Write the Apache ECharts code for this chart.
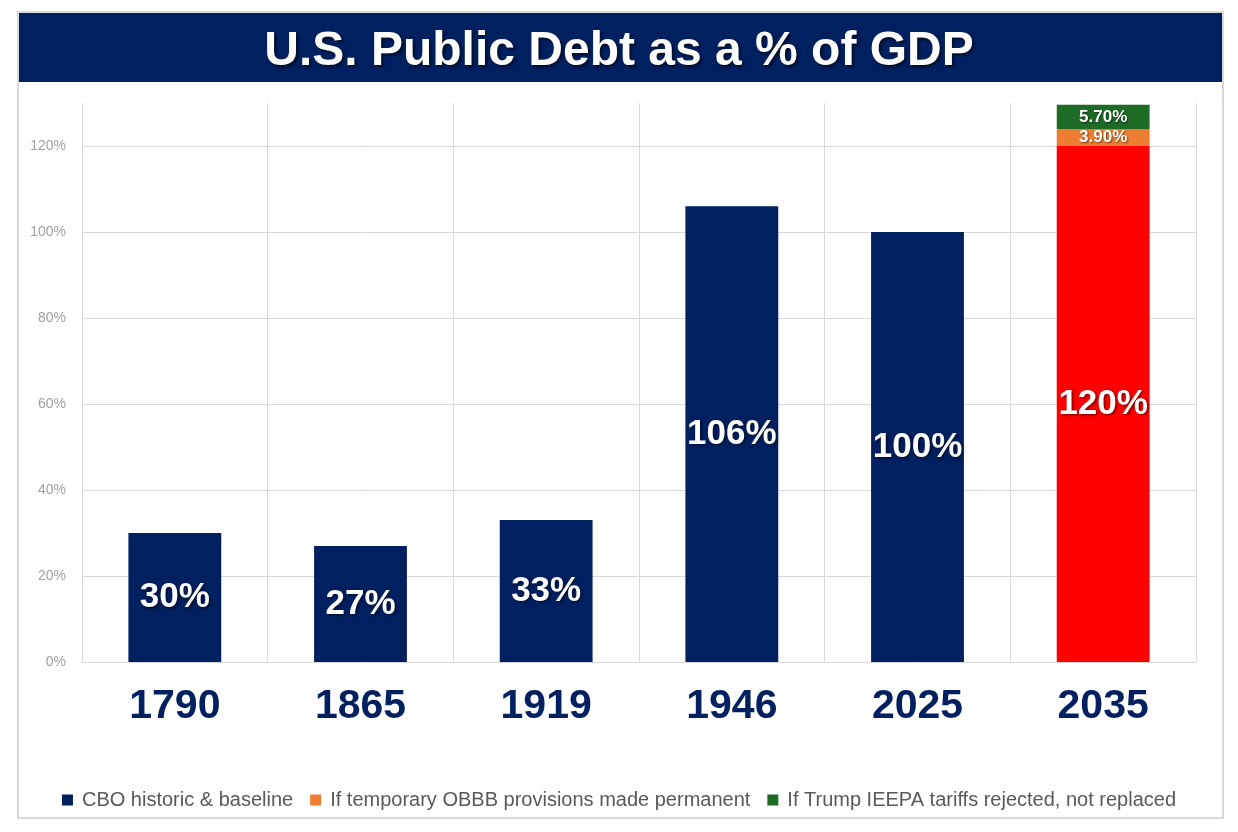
<!DOCTYPE html>
<html>
<head>
<meta charset="utf-8">
<script src="https://cdn.jsdelivr.net/npm/echarts@6/dist/echarts.min.js"></script>
<style>
  html, body { margin: 0; padding: 0; background: #fff; }
  #main { width: 1238px; height: 832px; }
</style>
</head>
<body>
<div id="main"></div>
<script>
// chart data
var years = ['1790', '1865', '1919', '1946', '2025', '2035'];
var baseline = [30, 27, 33, 106, 100, 120];
var obbb = ['-', '-', '-', '-', '-', 3.9];
var tariffs = ['-', '-', '-', '-', '-', 5.7];
var seriesNames = ['CBO historic & baseline', 'If temporary OBBB provisions made permanent', 'If Trump IEEPA tariffs rejected, not replaced'];

var NAVY = '#002060';
var FONT = '"Liberation Sans", Arial, sans-serif';

var myChart = echarts.init(document.getElementById('main'));

var baseData = baseline.map(function (v, i) {
    // the projected year is drawn in red
    return i === years.length - 1 ? { value: v, itemStyle: { color: '#FF0000' } } : v;
});

var bigLabel = {
    show: true,
    position: 'inside',
    color: '#fff',
    fontFamily: FONT,
    fontWeight: 'bold',
    fontSize: 35,
    textShadowColor: 'rgba(0,0,0,0.55)',
    textShadowBlur: 3,
    textShadowOffsetX: 1.5,
    textShadowOffsetY: 1.5,
    formatter: function (p) { return p.value + '%'; }
};

var smallLabel = {
    show: true,
    position: 'inside',
    color: '#fff',
    fontFamily: FONT,
    fontWeight: 'bold',
    fontSize: 17,
    textShadowColor: 'rgba(0,0,0,0.5)',
    textShadowBlur: 2,
    textShadowOffsetX: 1,
    textShadowOffsetY: 1,
    formatter: function (p) { return Number(p.value).toFixed(2) + '%'; }
};

var option = {
    animation: false,
    graphic: [
        {
            type: 'rect',
            shape: { x: 18, y: 12, width: 1205, height: 806 },
            style: { fill: 'none', stroke: '#d9d9d9', lineWidth: 2 },
            z: 100
        },
        {
            type: 'rect',
            shape: { x: 19, y: 13, width: 1203, height: 69 },
            style: { fill: NAVY }
        },
        {
            type: 'text',
            left: 'center',
            top: 28,
            style: {
                text: 'U.S. Public Debt as a % of GDP',
                fill: '#fff',
                font: 'bold 48px ' + FONT,
                textShadowColor: 'rgba(0,0,0,0.6)',
                textShadowBlur: 3,
                textShadowOffsetX: 2,
                textShadowOffsetY: 2
            }
        }
    ],
    legend: {
        data: seriesNames,
        bottom: 17,
        left: 'center',
        icon: 'rect',
        itemWidth: 11,
        itemHeight: 11,
        itemGap: 17,
        textStyle: { color: '#595959', fontSize: 20, fontFamily: FONT, padding: [0, 0, 0, 4] }
    },
    grid: { left: 82, right: 42, top: 103, bottom: 170 },
    xAxis: {
        type: 'category',
        data: years,
        axisLine: { show: false },
        axisTick: { show: false },
        splitLine: { show: true, lineStyle: { color: '#d9d9d9', width: 1 } },
        axisLabel: {
            color: NAVY,
            fontFamily: FONT,
            fontWeight: 'bold',
            fontSize: 41,
            margin: 24
        }
    },
    yAxis: {
        type: 'value',
        min: 0,
        max: 130,
        interval: 20,
        axisLine: { show: false },
        axisTick: { show: false },
        axisLabel: {
            color: '#a0a0a0',
            fontFamily: FONT,
            fontSize: 14,
            margin: 16,
            showMaxLabel: false,
            formatter: '{value}%'
        },
        splitLine: {
            lineStyle: {
                color: ['#d9d9d9', '#d9d9d9', '#d9d9d9', '#d9d9d9', '#d9d9d9', '#d9d9d9', '#d9d9d9', 'rgba(0,0,0,0)'],
                width: 1
            }
        }
    },
    series: [
        {
            name: seriesNames[0],
            type: 'bar',
            stack: 'debt',
            barWidth: '50%',
            itemStyle: { color: NAVY },
            label: bigLabel,
            data: baseData
        },
        {
            name: seriesNames[1],
            type: 'bar',
            stack: 'debt',
            itemStyle: { color: '#ED7D31' },
            label: smallLabel,
            data: obbb
        },
        {
            name: seriesNames[2],
            type: 'bar',
            stack: 'debt',
            itemStyle: { color: '#1E6B26' },
            label: smallLabel,
            data: tariffs
        }
    ]
};

myChart.setOption(option);
</script>
</body>
</html>
